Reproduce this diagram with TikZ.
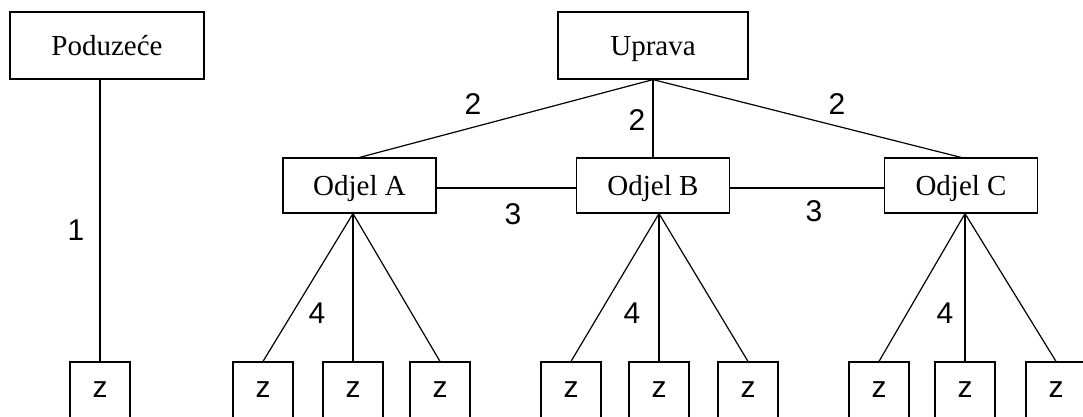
\documentclass[tikz,border=0pt]{standalone}
\usepackage{fontspec}
\setmainfont{Liberation Serif}
\newfontfamily\numfont{Liberation Sans}
\begin{document}
\begin{tikzpicture}[x=1pt,y=-1pt, line width=1.2pt,
  box/.style={draw, inner sep=0pt, minimum height=67pt, text height=19.2pt, text depth=0pt, font=\fontsize{29}{30}\selectfont},
  dept/.style={box, minimum width=153pt, minimum height=55pt},
  zbox/.style={draw, inner sep=0pt, minimum width=60pt, minimum height=56pt, text height=15.6pt, text depth=0pt, font=\numfont\fontsize{30}{32}\selectfont},
  lbl/.style={inner sep=0pt, font=\numfont\fontsize{30}{32}\selectfont}]
\useasboundingbox (0,0) rectangle (1083,416);
\clip (0,0) rectangle (1083,416);
% top boxes
\node[box, minimum width=194pt] (P) at (107,45.5) {Poduzeće};
\node[box, minimum width=190pt] (U) at (653,45.5) {Uprava};
\node[dept] (A) at (359.5,185.5) {Odjel A};
\node[dept] (B) at (653,185.5) {Odjel B};
\node[dept] (C) at (961,185.5) {Odjel C};
% z boxes
\node[zbox] (z0) at (100,390) {z};
\node[zbox] (a1) at (263,390) {z};
\node[zbox] (a2) at (353,390) {z};
\node[zbox] (a3) at (440,390) {z};
\node[zbox] (b1) at (571,390) {z};
\node[zbox] (b2) at (659,390) {z};
\node[zbox] (b3) at (748,390) {z};
\node[zbox] (c1) at (879,390) {z};
\node[zbox] (c2) at (965,390) {z};
\node[zbox] (c3) at (1056,390) {z};
% connectors
\draw (P.south -| z0.north) -- (z0.north);
\draw (U.south) -- (A.north);
\draw (U.south) -- (B.north);
\draw (U.south) -- (C.north);
\draw ([yshift=-2.5pt]A.east) -- ([yshift=-2.5pt]B.west);
\draw ([yshift=-2.5pt]B.east) -- ([yshift=-2.5pt]C.west);
\draw (a1.north) -- (A.south -| a2.north) -- (a3.north);
\draw (A.south -| a2.north) -- (a2.north);
\draw (b1.north) -- (B.south -| b2.north) -- (b3.north);
\draw (B.south -| b2.north) -- (b2.north);
\draw (c1.north) -- (C.south -| c2.north) -- (c3.north);
\draw (C.south -| c2.north) -- (c2.north);
% labels
\node[lbl] (l1) at (76,230) {1};
\node[lbl] (l2a) at (473,104) {2};
\node[lbl] (l2b) at (637,120) {2};
\node[lbl] (l2c) at (837,104) {2};
\node[lbl] (l3a) at (513,214) {3};
\node[lbl] (l3b) at (814,211) {3};
\node[lbl] (l4a) at (317,313) {4};
\node[lbl] (l4b) at (632,313) {4};
\node[lbl] (l4c) at (945,313) {4};
\end{tikzpicture}
\end{document}
